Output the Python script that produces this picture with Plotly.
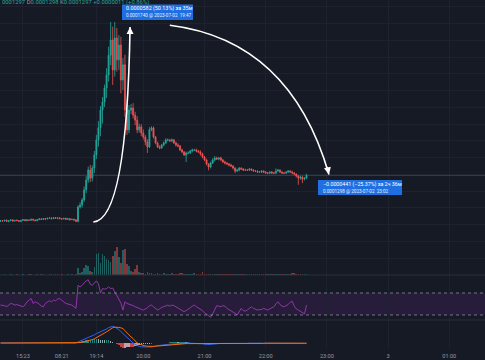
import plotly.graph_objects as go

W, H = 485, 360
SCALE = 1e-7  # price arrays are stored in units of 0.0000001

# ---------------- data (2-minute bars, x = minute index) ----------------
bar_index = list(range(151))
first_open = 1160
closes = [1162,1161,1163,1160,1162,1164,1161,1163,1162,1160,1163,1165,1162,1164,1163,1166,1164,1162,1165,1167,
          1166,1168,1167,1169,1170,1168,1171,1169,1170,1168,1167,1169,1166,1168,1165,1166,1164,1160,
          1203,1209,1224,1254,1283,1313,1289,1319,1358,1403,1439,1492,1516,1558,1597,1656,1701,1612,1707,1642,
          1686,1582,1627,1492,1433,1492,1498,1477,1462,1433,1442,1424,1412,1397,1382,1433,1439,1412,1394,1382,
          1379,1388,1394,1403,1403,1400,1403,1394,1388,1385,1373,1367,1358,1364,1364,1370,1373,1373,1370,1367,
          1361,1352,1343,1331,1322,1334,1343,1349,1346,1349,1343,1337,1334,1331,1328,1325,1319,1310,1313,1319,
          1316,1313,1313,1313,1316,1313,1310,1310,1307,1307,1310,1307,1304,1304,1307,1304,1304,1310,1313,1307,
          1304,1304,1307,1310,1307,1304,1301,1295,1289,1292,1286,1289,1297]
up_wick = [2,1,2,3,1,2,2,1,3,2,1,2,2,3,1,2,2,1,2,3,2,1,2,2,3,2,1,2,2,3,2,1,2,2,1,2,2,3,
           5,8,6,10,12,10,15,8,12,15,20,12,15,10,20,25,54,40,48,30,30,25,20,30,20,15,12,15,10,12,10,8,10,6,8,
           8,5,4,3,4,5,3,4,5,4,3,4,3,4,5,3,4,3,4,5,3,4,3,4,3,5,4,3,4,3,4,5,6,4,3,4,3,4,3,3,
           4,3,3,4,3,2,3,4,3,3,2,3,3,2,3,3,2,3,3,2,3,3,8,3,2,3,3,2,3,3,4,3,2,3,4,3,3,5]
dn_wick = [2,2,1,2,3,1,2,2,1,2,3,2,1,2,2,1,3,2,2,1,2,2,3,1,2,2,1,2,3,2,2,1,2,2,3,1,2,2,
           3,5,8,6,10,8,12,10,15,12,20,25,40,15,30,20,30,45,20,35,30,40,30,20,15,10,12,10,15,10,8,10,8,10,18,
           3,4,5,4,3,4,3,4,3,4,3,4,3,5,4,3,4,3,21,4,3,4,3,4,3,5,4,3,4,10,4,3,4,3,4,3,3,4,3,4,
           3,4,6,3,4,3,3,2,3,3,3,2,3,3,2,3,3,2,3,3,2,3,3,2,3,3,2,3,3,2,3,3,4,20,5,12,4,3]
volume = [40,20,60,30,50,80,30,40,60,20,50,90,40,30,60,70,40,30,80,50,60,90,40,50,100,70,50,60,80,40,60,50,30,70,40,60,50,120,
          700,200,300,700,1000,900,400,300,800,2100,2200,1200,2100,1900,1600,1500,1300,1900,2400,2800,1800,1200,2500,2600,1100,900,400,300,600,1000,300,
          250,200,150,300,250,180,150,120,200,150,100,180,120,150,100,200,120,100,150,180,200,150,120,100,150,120,180,100,120,150,
          300,150,120,100,150,100,120,150,100,120,80,100,120,150,100,80,120,100,150,120,100,80,100,120,100,80,100,120,80,100,
          120,100,80,150,100,120,80,100,120,100,80,120,100,150,200,250,150,120,100,80,120,150]
rsi = [48,48,47,45,48,51,50,48,49,48,46,45,48,54,57,60,51,54,52,50,46,45,51,54,56,54,57,56,59,60,56,54,51,50,48,48,45,42,
       84,81,84,89,92,94,86,84,89,92,87,70,78,77,78,81,78,79,72,66,60,52,39,54,51,50,48,47,45,44,
       42,40,39,41,43,47,48,45,42,39,41,44,45,47,48,46,48,47,45,43,41,39,36,38,40,43,46,48,45,43,
       41,38,34,31,28,26,32,40,47,46,45,47,46,42,40,38,36,33,30,37,42,38,37,39,42,45,42,40,39,40,
       40,42,40,39,41,43,45,50,54,49,46,45,47,49,53,55,46,41,39,37,34,32,48]
macd = [0,0,0,0,0,0,0,0,1,1,0,0,0,1,1,2,1,1,1,0,0,1,1,1,2,2,2,2,2,2,1,1,1,0,0,0,-1,-1,
        5,9,13,18,22,26,30,36,41,47,51,55,59,63,70,77,80,83,80,74,67,57,47,38,30,22,11,0,-7,-13,
        -17,-19,-20,-20,-20,-20,-20,-17,-15,-13,-12,-10,-9,-8,-7,-6,-5,-4,-3,-3,-2,-1,0,0,0,-1,-1,-1,-2,-3,
        -2,-4,-6,-7,-8,-8,-6,-4,-3,-3,-2,-2,-2,-2,-3,-3,-4,-4,-5,-3,-2,-2,-2,-2,-1,-1,-1,-1,-1,-1,
        -1,-1,-1,-1,-1,-1,0,0,1,0,0,0,0,0,1,1,0,-1,-1,-2,-2,-3,-2]
signal = [0,0,0,0,0,0,0,0,0,0,1,1,0,0,0,1,1,1,1,1,1,1,1,1,1,1,2,2,2,2,2,2,1,1,1,1,0,0,
          1,2,4,6,8,11,13,17,21,26,32,38,44,50,56,63,72,76,79,80,78,76,72,62,50,40,30,22,10,0,
          -5,-9,-13,-15,-16,-17,-17,-17,-16,-15,-13,-12,-11,-10,-9,-9,-8,-8,-7,-6,-5,-4,-4,-3,-3,-3,-3,-3,-3,-3,
          -3,-3,-3,-3,-4,-5,-5,-5,-5,-4,-4,-4,-3,-3,-3,-3,-3,-3,-3,-3,-3,-3,-2,-2,-2,-2,-2,-2,-2,-2,
          -2,-2,-1,-1,-1,-1,-1,-1,-1,-1,-1,-1,-1,-1,0,0,0,0,-1,-1,-1,-1,-1]

tick_pos = [22, 60, 94, 140, 200, 260, 320, 380, 440]
tick_labels = ["15:23", "08:21", "19:14", "20:00", "21:00", "22:00", "23:00", "3", "01:00"]

# measured points (minute index, price units)
m1_start = (91, 1158)
m1_end = (127, 1740)
m2_start = (166, 1745)
m2_end = (322, 1300)
last_price = 1297

# ---------------- derived ----------------
xs = [2 * i for i in bar_index]
opens = [first_open] + closes[:-1]
highs = [max(o, c) + u for o, c, u in zip(opens, closes, up_wick)]
lows = [min(o, c) - d for o, c, d in zip(opens, closes, dn_wick)]
P = lambda v: v * SCALE

UP, DN = "#26a69a", "#ef5350"
BG = "#161a25"
GRID = "#1e2230"

vol_colors = ["rgba(38,166,154,0.5)" if c >= o else "rgba(239,83,80,0.5)" for o, c in zip(opens, closes)]
hist = [m - s for m, s in zip(macd, signal)]
hist_colors = []
for k_, h in enumerate(hist):
    prev = hist[k_ - 1] if k_ > 0 else 0
    if h >= 0:
        hist_colors.append("rgba(38,166,154,0.75)" if h >= prev else "rgba(178,223,219,0.75)")
    else:
        hist_colors.append("rgba(255,82,82,0.75)" if h <= prev else "rgba(255,205,210,0.75)")

fig = go.Figure()
fig.add_trace(go.Candlestick(
    x=xs, open=[P(v) for v in opens], high=[P(v) for v in highs],
    low=[P(v) for v in lows], close=[P(v) for v in closes],
    increasing=dict(line=dict(color=UP, width=0.8), fillcolor=UP),
    decreasing=dict(line=dict(color=DN, width=0.8), fillcolor=DN),
    yaxis="y", showlegend=False))
fig.add_trace(go.Bar(x=xs, y=volume, yaxis="y2", marker=dict(color=vol_colors, line=dict(width=0)),
                     width=1.6, showlegend=False))
fig.add_trace(go.Scatter(x=xs, y=rsi, yaxis="y3", mode="lines",
                         line=dict(color="#9036aa", width=1), showlegend=False))
fig.add_trace(go.Bar(x=xs, y=hist, yaxis="y4", marker=dict(color=hist_colors, line=dict(width=0)),
                     width=1.5, showlegend=False))
fig.add_trace(go.Scatter(x=xs, y=macd, yaxis="y4", mode="lines",
                         line=dict(color="#2962ff", width=1), showlegend=False))
fig.add_trace(go.Scatter(x=xs, y=signal, yaxis="y4", mode="lines",
                         line=dict(color="#ff6d00", width=1), showlegend=False))

# pixel helpers for decorations
pxx = lambda x: x / W
pxy = lambda y: 1 - y / H

# price axis calibration (px per price unit)
k = 195 / 582.0
top_price = 1158 + 222 / k
bot_price = 1158 - (275 - 222) / k

shapes = []
# pane separators
for yy in (275, 320):
    shapes.append(dict(type="line", xref="paper", yref="paper", x0=0, x1=1, y0=pxy(yy), y1=pxy(yy),
                       line=dict(color="#2a2e39", width=1)))
# last price line
shapes.append(dict(type="line", xref="paper", yref="y", x0=0, x1=1, y0=P(last_price), y1=P(last_price),
                   line=dict(color="rgba(38,166,154,0.35)", width=1)))
# RSI band
shapes.append(dict(type="rect", xref="paper", yref="y3", x0=0, x1=1, y0=30, y1=70,
                   fillcolor="rgba(150,40,190,0.15)", line=dict(width=0), layer="below"))
for lv in (30, 70):
    shapes.append(dict(type="line", xref="paper", yref="y3", x0=0, x1=1, y0=lv, y1=lv,
                       line=dict(color="rgba(190,190,205,0.55)", width=1, dash="dot")))
# curved arrows (data coords)
def qpath(a, c, b):
    return (f"M {a[0]},{P(a[1]):.8f} Q {c[0]},{P(c[1]):.8f} {b[0]},{P(b[1]):.8f}")
shapes.append(dict(type="path", xref="x", yref="y",
                   path=qpath(m1_start, (124, 1164), m1_end),
                   line=dict(color="white", width=1.6)))
shapes.append(dict(type="path", xref="x", yref="y",
                   path=qpath(m2_start, (284, 1700), m2_end),
                   line=dict(color="white", width=1.6)))
# label boxes
BLUE = "#1f6fe0"
shapes.append(dict(type="rect", xref="paper", yref="paper", x0=pxx(122), x1=pxx(193), y0=pxy(20), y1=pxy(4.5),
                   fillcolor=BLUE, line=dict(width=0)))
shapes.append(dict(type="rect", xref="paper", yref="paper", x0=pxx(318), x1=pxx(402), y0=pxy(195), y1=pxy(180),
                   fillcolor=BLUE, line=dict(width=0)))

FONT = "Roboto"
ann = []
ann.append(dict(xref="x", yref="y", x=m1_end[0], y=P(m1_end[1]), ax=0, ay=9, showarrow=True, arrowhead=2,
                arrowsize=1, arrowwidth=1.4, arrowcolor="white", text=""))
ann.append(dict(xref="x", yref="y", x=m2_end[0], y=P(m2_end[1]), ax=-2, ay=-9, showarrow=True, arrowhead=2,
                arrowsize=1, arrowwidth=1.4, arrowcolor="white", text=""))
ann.append(dict(xref="paper", yref="paper", x=pxx(124), y=pxy(8.6), xanchor="left", yanchor="middle",
                showarrow=False, text="0.0000582 (50.13%) за 35м", font=dict(family=FONT, size=5.4, color="white")))
ann.append(dict(xref="paper", yref="paper", x=pxx(124), y=pxy(15.8), xanchor="left", yanchor="middle",
                showarrow=False, text="0.0001740 @ 2023-07-02  19:47", font=dict(family=FONT, size=4.6, color="#e8eefc")))
ann.append(dict(xref="paper", yref="paper", x=pxx(320.5), y=pxy(184.5), xanchor="left", yanchor="middle",
                showarrow=False, text="−0.0000441 (−25.37%) за 2ч 36м", font=dict(family=FONT, size=5.3, color="white")))
ann.append(dict(xref="paper", yref="paper", x=pxx(320.5), y=pxy(191.8), xanchor="left", yanchor="middle",
                showarrow=False, text="0.0001298 @ 2023-07-02  23:02", font=dict(family=FONT, size=4.6, color="#e8eefc")))
T, G = "#26a69a", "#9598a1"
header = (f"<span style='color:{T}'>0001297</span> <span style='color:{G}'>D</span>"
          f"<span style='color:{T}'>0.0001298</span> <span style='color:{G}'>K</span>"
          f"<span style='color:{T}'>0.0001297 +0.0000011 (+0.86%)</span>")
ann.append(dict(xref="paper", yref="paper", x=0, y=pxy(2.8), xanchor="left", yanchor="middle",
                showarrow=False, text=header, font=dict(family=FONT, size=5.9, color=T)))

fig.update_layout(
    width=W, height=H, margin=dict(l=0, r=0, t=0, b=0),
    paper_bgcolor=BG, plot_bgcolor="rgba(0,0,0,0)",
    showlegend=False, bargap=0, hovermode=False,
    shapes=shapes, annotations=ann,
    xaxis=dict(range=[-0.5, 475], anchor="y4", showgrid=True, gridcolor=GRID, gridwidth=1,
               tickvals=tick_pos, ticktext=tick_labels, ticks="", zeroline=False, showline=False,
               ticklabelstandoff=3,
               tickfont=dict(family=FONT, size=5.6, color="#9598a1"),
               rangeslider=dict(visible=False), fixedrange=True),
    yaxis=dict(domain=[pxy(275), 1], range=[P(bot_price), P(top_price)], dtick=0.000005, tick0=0,
               showticklabels=False, showgrid=True, gridcolor=GRID, zeroline=False, ticks=""),
    yaxis2=dict(overlaying="y", range=[0, 2800 * 275 / 28], visible=False),
    yaxis3=dict(domain=[pxy(320), pxy(275)], range=[20.9, 102.7], showgrid=False,
                showticklabels=False, zeroline=False, ticks=""),
    yaxis4=dict(domain=[pxy(348), pxy(320)], range=[-25, 115], showgrid=False,
                showticklabels=False, zeroline=False, ticks=""),
)

fig.write_html("out.html", config={"displayModeBar": False},
               post_script="document.body.style.margin='0';document.body.style.background='" + BG + "';")
